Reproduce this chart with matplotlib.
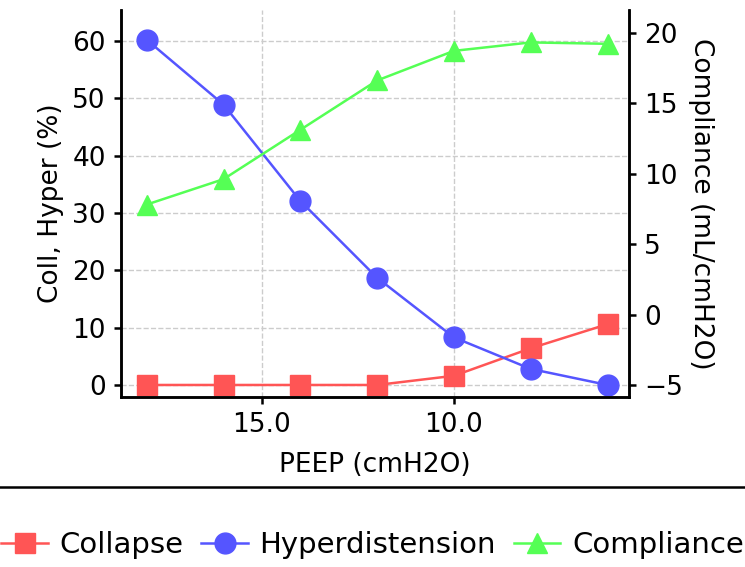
import numpy as np
import matplotlib
matplotlib.use("Agg")
import matplotlib.pyplot as plt

# 数据
peep = [18, 16, 14, 12, 10, 8, 6]
collapse = [0.0, 0.0, 0.0, 0.0, 1.6, 6.4, 10.6]
hyper = [60.2, 48.9, 32.1, 18.7, 8.3, 2.8, 0.0]
compliance = [7.8, 9.6, 13.1, 16.6, 18.7, 19.3, 19.2]

plt.rcParams["font.family"] = ["DejaVu Sans"]

fig = plt.figure(figsize=(7.45, 5.67), dpi=100)
ax1 = fig.add_axes([0.1624, 0.2998, 0.6819, 0.6826])
ax2 = ax1.twinx()

red = "#ff5555"
blue = "#5555ff"
green = "#55ff55"

l1, = ax1.plot(peep, collapse, color=red, marker="s", markersize=14, lw=1.8, label="Collapse")
l2, = ax1.plot(peep, hyper, color=blue, marker="o", markersize=15, lw=1.8, label="Hyperdistension")
l3, = ax2.plot(peep, compliance, color=green, marker="^", markersize=15, lw=1.8, label="Compliance")

ax1.set_xlim(18.67, 5.44)
ax1.set_xticks([15, 10])
ax1.set_xticklabels(["15.0", "10.0"])
ax1.set_ylim(-2.1, 65.4)
ax1.set_yticks(range(0, 61, 10))
ax2.set_ylim(-5.85, 21.6)
ax2.set_yticks(range(-5, 21, 5))

ax1.grid(True, linestyle="--", color="#cccccc", lw=1.0)
ax1.set_axisbelow(True)

for ax in (ax1, ax2):
    ax.spines["top"].set_visible(False)
    for s in ("left", "right", "bottom"):
        ax.spines[s].set_linewidth(1.8)
    ax.tick_params(labelsize=19, width=1.8, length=5, pad=6)

ax1.set_xlabel("PEEP (cmH2O)", fontsize=19, labelpad=10)
ax1.set_ylabel("Coll, Hyper (%)", fontsize=19, labelpad=6)
ax2.set_ylabel("Compliance (mL/cmH2O)", fontsize=19, rotation=270, labelpad=22)

leg = fig.legend(handles=[l1, l2, l3], loc="upper center", bbox_to_anchor=(0.5, 1 - 487 / 567),
                 ncol=3, fontsize=21, frameon=True, fancybox=False, edgecolor="black",
                 framealpha=1, handlelength=1.6, handletextpad=0.4, columnspacing=0.6,
                 borderaxespad=0, borderpad=1.5)
leg.get_frame().set_linewidth(1.8)

fig.savefig("out.png", dpi=100)
